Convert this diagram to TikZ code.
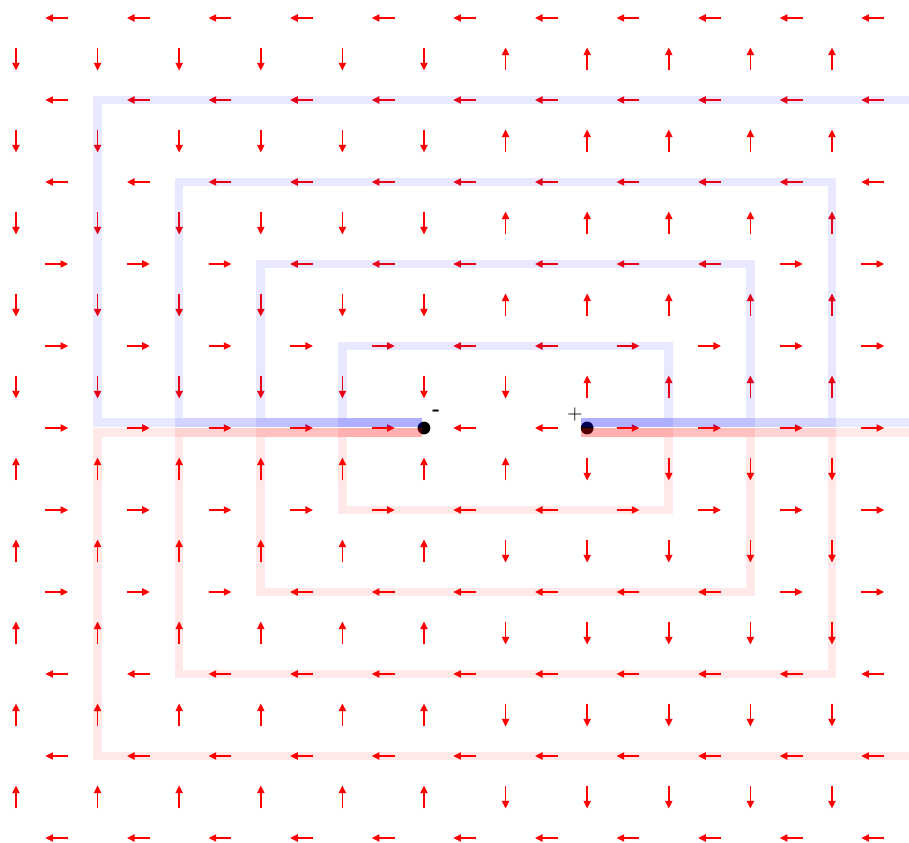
\documentclass[tikz,border=0pt]{standalone}
\usepackage{xcolor}
\usetikzlibrary{arrows.meta}
\tikzset{
  field/.style = {red, line width=0.75pt,
                  -{Triangle[length=3.8pt, width=3.6pt]}},
  wire/.style = {#1, opacity=0.09, line width=4.3pt},
  wire/.default = blue,
  charge/.style = {circle, fill=black, minimum size=#1,
                   inner sep=0pt, outer sep=0pt},
  charge/.default = 6.4pt
}

\begin{document}
\begin{tikzpicture}[x=40.8pt, y=41pt]
	\def \len{0.14}   % half length of an arrow
	\def \gapb{0.07}  % blue feed line above the axis
	\def \gapr{0.055} % red feed line below the axis

	\useasboundingbox (-6.196,-5.061) rectangle (4.944,5.2195);
	\clip (-6.196,-5.061) rectangle (4.944,5.2195);

	% Horizontal field
	\foreach \x in {-5.5,-4.5,...,4.5} {
		\foreach \y in {-5,...,5} {
			\pgfmathsetmacro\d{((abs(\y)<2 && abs(\x)>1) || (abs(\y)==2 && abs(\x)>3)) ? 1 : -1}
			\pgfmathsetmacro\xa{\x-\d*\len}
			\pgfmathsetmacro\xb{\x+\d*\len}
			\draw[field] (\xa,\y) -- (\xb,\y);
		}
	}

	% Vertical field
	\foreach \x in {-6,...,4} {
		\foreach \y in {-4.5,-3.5,...,4.5} {
			\pgfmathsetmacro\t{abs(\y)<1 ? 0 : -1}
			\pgfmathsetmacro\d{((\x>\t) ? 1 : -1)*((\y>0) ? 1 : -1)}
			\pgfmathsetmacro\ya{\y-\d*\len}
			\pgfmathsetmacro\yb{\y+\d*\len}
			\draw[field] (\x,\ya) -- (\x,\yb);
		}
	}

	% Charges
	\node[charge] (minus) at (-1,0) {};
	\node[charge] (plus) at (1,0) {};

	% Loops, upper (blue) and lower (red)
	\foreach \k in {1,...,4} {
		\draw[wire=blue] (-1.02,\gapb) -- (-1-\k,\gapb) -- (-1-\k,\k)
			-- (1+\k,\k) -- (1+\k,\gapb) -- (0.93,\gapb);
		\draw[wire=red] (-1.02,-\gapr) -- (-1-\k,-\gapr) -- (-1-\k,-\k)
			-- (1+\k,-\k) -- (1+\k,-\gapr) -- (0.93,-\gapr);
	}

	% Signs
	\node[font=\normalsize\bfseries, inner sep=0pt] (minuslbl) at (-0.85,0.18) {-};
	\node[font=\normalsize, inner sep=0pt] (pluslbl) at (0.85,0.16) {+};
\end{tikzpicture}
\end{document}
